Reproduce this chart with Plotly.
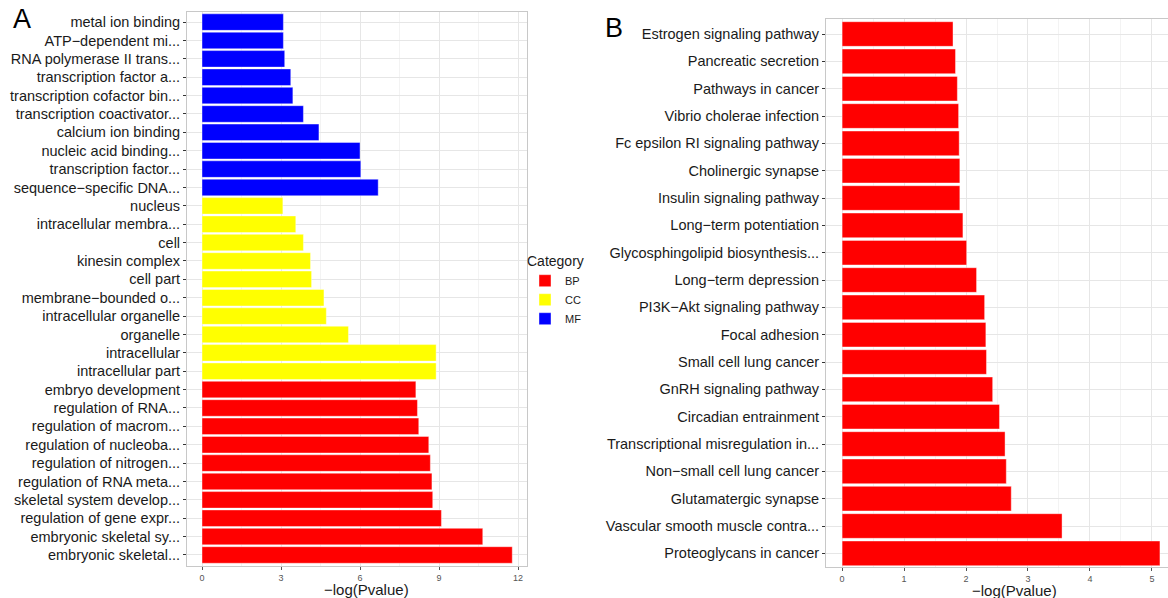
import plotly.graph_objects as go

# ---------------- Panel A data (top to bottom) ----------------
a_terms = [
    "metal ion binding", "ATP−dependent mi...", "RNA polymerase II trans...",
    "transcription factor a...", "transcription cofactor bin...",
    "transcription coactivator...", "calcium ion binding",
    "nucleic acid binding...", "transcription factor...",
    "sequence−specific DNA...",
    "nucleus", "intracellular membra...", "cell", "kinesin complex", "cell part",
    "membrane−bounded o...", "intracellular organelle", "organelle",
    "intracellular", "intracellular part",
    "embryo development", "regulation of RNA...", "regulation of macrom...",
    "regulation of nucleoba...", "regulation of nitrogen...",
    "regulation of RNA meta...", "skeletal system develop...",
    "regulation of gene expr...", "embryonic skeletal sy...", "embryonic skeletal...",
]
a_values = [
    3.09, 3.09, 3.14, 3.37, 3.45, 3.85, 4.44, 6.00, 6.03, 6.69,
    3.07, 3.56, 3.85, 4.12, 4.16, 4.63, 4.72, 5.56, 8.89, 8.89,
    8.12, 8.18, 8.23, 8.61, 8.67, 8.73, 8.76, 9.09, 10.66, 11.78,
]
a_category = ["MF"] * 10 + ["CC"] * 10 + ["BP"] * 10
categories = ["BP", "CC", "MF"]
cat_colors = {"BP": "#FF0000", "CC": "#FFFF00", "MF": "#0000FF"}
a_ticks = [0, 3, 6, 9, 12]

# ---------------- Panel B data (top to bottom) ----------------
b_terms = [
    "Estrogen signaling pathway", "Pancreatic secretion", "Pathways in cancer",
    "Vibrio cholerae infection", "Fc epsilon RI signaling pathway",
    "Cholinergic synapse", "Insulin signaling pathway", "Long−term potentiation",
    "Glycosphingolipid biosynthesis...", "Long−term depression",
    "PI3K−Akt signaling pathway", "Focal adhesion", "Small cell lung cancer",
    "GnRH signaling pathway", "Circadian entrainment",
    "Transcriptional misregulation in...", "Non−small cell lung cancer",
    "Glutamatergic synapse", "Vascular smooth muscle contra...",
    "Proteoglycans in cancer",
]
b_values = [
    1.79, 1.83, 1.86, 1.88, 1.89, 1.90, 1.90, 1.95, 2.01, 2.17,
    2.30, 2.32, 2.33, 2.43, 2.54, 2.63, 2.65, 2.73, 3.55, 5.13,
]
b_ticks = [0, 1, 2, 3, 4, 5]

FONT = "Liberation Sans, Arial, sans-serif"
W, H = 1168, 598

fig = go.Figure()

for cat in categories:
    ys = [t for t, c in zip(a_terms, a_category) if c == cat]
    xs = [v for v, c in zip(a_values, a_category) if c == cat]
    fig.add_trace(go.Bar(
        x=xs, y=ys, orientation="h", name=cat,
        marker=dict(color=cat_colors[cat], line=dict(color="rgba(255,255,255,0.5)", width=0.8)),
        width=0.9, xaxis="x", yaxis="y", showlegend=True,
    ))

fig.add_trace(go.Bar(
    x=b_values, y=b_terms, orientation="h", name="KEGG",
    marker=dict(color="#FF0000", line=dict(color="rgba(255,255,255,0.5)", width=0.8)),
    width=0.9, xaxis="x2", yaxis="y2", showlegend=False,
))

grid_major = "#E6E6E6"
grid_minor = "#F3F3F3"
frame = "#C8C8C8"

common_x = dict(
    showgrid=True, gridcolor=grid_major, gridwidth=1, zeroline=False,
    showline=True, mirror=True, linecolor=frame, linewidth=1,
    ticks="outside", ticklen=3, tickcolor="#555555",
    tickfont=dict(family=FONT, size=9, color="#555555"),
)
common_y = dict(
    type="category", showgrid=True, gridcolor=grid_major, gridwidth=1, zeroline=False,
    showline=True, mirror=True, linecolor=frame, linewidth=1,
    ticks="outside", ticklen=3, tickcolor="#333333",
    tickfont=dict(family=FONT, size=14.5, color="#1a1a1a"),
)

fig.update_layout(
    width=W, height=H,
    margin=dict(l=0, r=0, t=0, b=0),
    paper_bgcolor="white", plot_bgcolor="white",
    barmode="overlay",
    bargap=0.1,
    font=dict(family=FONT, color="#1a1a1a"),
    xaxis=dict(domain=[187 / W, 527 / W], range=[-0.57, 12.34],
               tickvals=a_ticks, anchor="y",
               minor=dict(dtick=1.5, tick0=0, showgrid=True, gridcolor=grid_minor, ticks=""),
               **common_x),
    yaxis=dict(domain=[1 - 566 / H, 1 - 12 / H], anchor="x",
               categoryorder="array", categoryarray=a_terms,
               range=[29.6, -0.55], **common_y),
    xaxis2=dict(domain=[826 / W, 1.0], range=[-0.26, 5.26],
                tickvals=b_ticks, anchor="y2",
                minor=dict(dtick=0.5, tick0=0, showgrid=True, gridcolor=grid_minor, ticks=""),
                **common_x),
    yaxis2=dict(domain=[1 - 567 / H, 1 - 19 / H], anchor="x2",
                categoryorder="array", categoryarray=b_terms,
                range=[19.5, -0.55], **common_y),
    legend=dict(
        title=dict(text="Category", font=dict(family=FONT, size=14, color="#1a1a1a")),
        x=525 / W, y=1 - 248 / H, xanchor="left", yanchor="top",
        font=dict(family=FONT, size=11, color="#1a1a1a"),
        tracegroupgap=0, bgcolor="rgba(0,0,0,0)",
    ),
    annotations=[
        dict(text="A", x=22 / W, y=1 - 19 / H, xref="paper", yref="paper",
             showarrow=False, font=dict(family=FONT, size=27, color="black"),
             xanchor="center", yanchor="middle"),
        dict(text="B", x=614 / W, y=1 - 28 / H, xref="paper", yref="paper",
             showarrow=False, font=dict(family=FONT, size=27, color="black"),
             xanchor="center", yanchor="middle"),
        dict(text="−log(Pvalue)", x=366 / W, y=1 - 589 / H, xref="paper", yref="paper",
             showarrow=False, font=dict(family=FONT, size=15, color="#1a1a1a"),
             xanchor="center", yanchor="middle"),
        dict(text="−log(Pvalue)", x=1015 / W, y=1 - 590 / H, xref="paper", yref="paper",
             showarrow=False, font=dict(family=FONT, size=15, color="#1a1a1a"),
             xanchor="center", yanchor="middle"),
    ],
)

fig.write_html("out.html")
